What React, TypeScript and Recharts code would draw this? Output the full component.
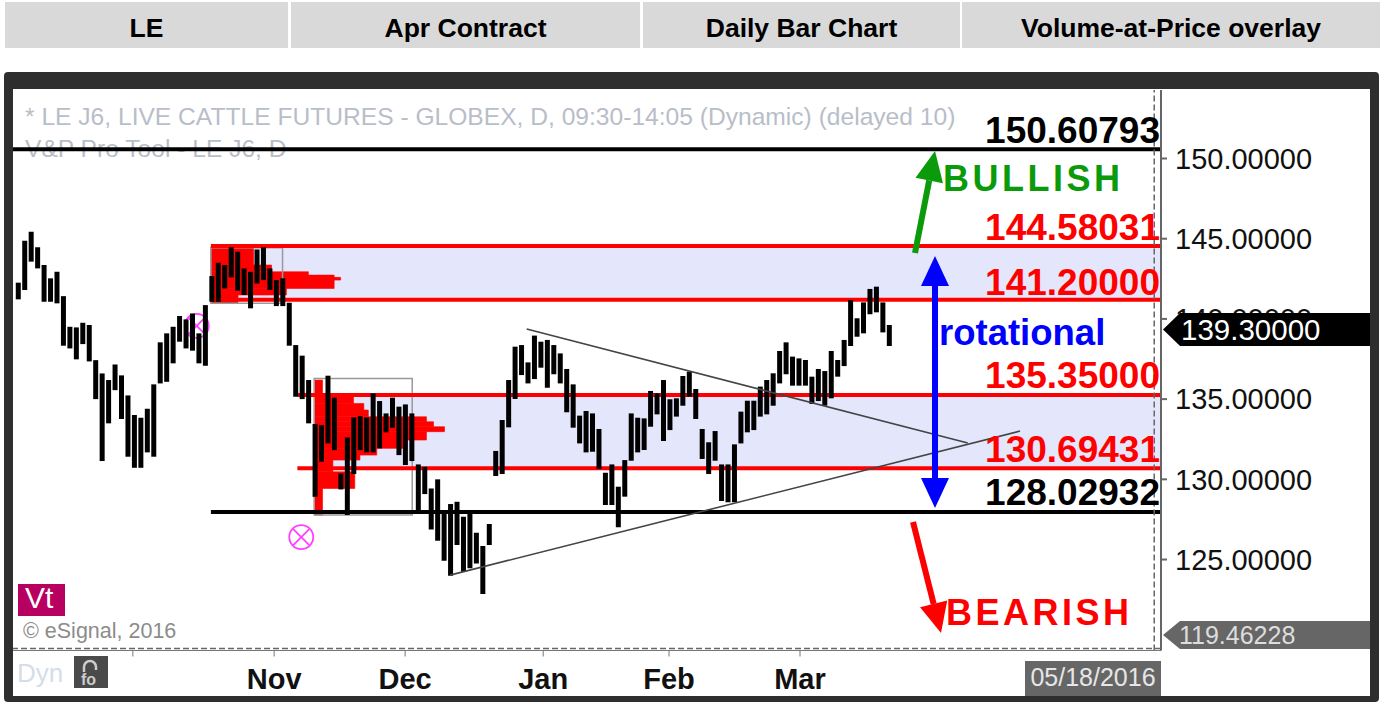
import {
  Bar,
  ComposedChart,
  ReferenceArea,
  ReferenceDot,
  ReferenceLine,
  XAxis,
  YAxis,
} from "recharts";

const FONT = '"Liberation Sans", Arial, sans-serif';

const HEADER_CELLS = ["LE", "Apr Contract", "Daily Bar Chart", "Volume-at-Price overlay"];

// daily highs and lows, one entry per session
const HIGHS = [
  142.26, 144.87, 145.44, 144.46, 143.36, 142.53, 142.94, 141.42, 139.51, 139.47,
  139.76, 139.62, 137.43, 136.6, 136.19, 137.16, 136.48, 135.23, 134.01, 133.84,
  134.4, 135.92, 138.54, 139.1, 139.51, 140.18, 139.97, 140.34, 139.1, 140.86,
  142.67, 143.5, 143.36, 144.46, 144.19, 143.15, 142.94, 144.33, 144.46, 143.15,
  142.42, 142.53, 141.01, 138.37, 137.71, 136.19, 133.45, 133.38, 136.46, 135.09,
  130.37, 132.61, 133.86, 133.94, 133.86, 135.36, 134.88, 134.11, 135.09, 134.53,
  134.67, 134.11, 130.93, 130.78, 129.43, 130.0, 127.98, 128.46, 128.6, 127.67,
  127.88, 126.67, 125.84, 127.21, 131.77, 133.7, 136.19, 138.27, 138.37, 137.29,
  138.96, 138.58, 138.69, 138.37, 137.85, 136.88, 135.92, 133.97, 134.26, 134.11,
  133.14, 130.41, 130.93, 129.54, 131.2, 134.11, 133.84, 133.8, 135.51, 135.36,
  136.19, 134.99, 135.05, 136.44, 136.71, 135.63, 133.14, 132.31, 133.01, 130.93,
  130.93, 132.18, 134.22, 134.9, 134.9, 135.78, 136.19, 136.61, 138.0, 138.54,
  137.65, 137.54, 137.44, 136.4, 136.88, 136.75, 138.0, 137.44, 138.69, 141.18,
  140.04, 141.03, 141.87, 142.01, 141.03, 139.62,
];
const LOWS = [
  141.22, 141.8, 143.57, 143.15, 141.07, 141.07, 140.97, 138.33, 138.16, 137.48,
  138.43, 137.35, 135.0, 131.14, 133.49, 135.56, 133.76, 131.41, 130.72, 130.72,
  131.68, 131.41, 135.98, 136.08, 137.23, 138.58, 138.16, 138.02, 137.23, 137.08,
  141.07, 141.07, 141.9, 142.59, 141.76, 141.49, 140.66, 142.21, 142.42, 141.8,
  140.8, 140.8, 138.33, 135.15, 135.0, 133.49, 128.91, 131.1, 132.24, 131.82,
  129.37, 127.77, 130.33, 131.82, 131.68, 131.68, 131.93, 132.93, 133.22, 131.51,
  130.89, 131.14, 127.98, 129.08, 126.88, 126.17, 124.92, 123.99, 125.9, 124.24,
  124.45, 124.76, 122.85, 125.91, 130.21, 130.33, 133.24, 135.01, 136.5, 135.98,
  136.25, 136.96, 135.71, 136.55, 135.98, 134.18, 133.22, 132.24, 131.68, 131.72,
  130.64, 128.4, 128.4, 127.01, 128.92, 131.16, 131.68, 131.83, 133.28, 134.05,
  132.39, 133.07, 133.91, 134.59, 135.15, 133.76, 131.27, 130.33, 131.16, 128.65,
  128.57, 128.57, 132.24, 132.93, 133.07, 133.91, 134.05, 134.59, 135.98, 136.55,
  135.84, 135.84, 135.84, 134.7, 134.88, 134.59, 135.05, 136.4, 137.06, 138.31,
  138.89, 139.1, 140.29, 140.41, 139.16, 138.31,
];

// volume-at-price rows: [top price, bottom price, session the row reaches]
const PROFILE_START_A = 29.9;
const PROFILE_A = [
  [144.5, 143.36, 36.5],
  [143.36, 142.94, 39.3],
  [142.94, 142.73, 45],
  [142.73, 141.9, 49],
  [142.59, 142.42, 50],
  [141.9, 141.49, 41.6],
  [141.49, 140.97, 34.1],
];
const PROFILE_START_B = 46;
const PROFILE_B = [
  [136.19, 135.15, 47.2],
  [135.15, 134.73, 52],
  [134.73, 134.32, 53.6],
  [134.32, 133.9, 54.3],
  [133.9, 133.59, 63.3],
  [133.59, 133.28, 64.4],
  [133.28, 132.97, 66.1],
  [132.97, 132.45, 63.3],
  [132.45, 131.93, 59.7],
  [131.93, 131.51, 55.6],
  [131.51, 131.2, 53],
  [131.2, 130.47, 48.8],
  [130.47, 129.43, 52.2],
  [129.43, 127.77, 47.2],
];

// where the level lines sit on the picture
const LEVEL_BLACK = [150.58, 127.96];
const LEVEL_RED = [144.55, 141.2, 135.26, 130.69];
const PRICE_TICKS = [125, 130, 135, 140, 145, 150];
const MONTH_TICKS = [17.8, 39.7, 60, 81.4, 100.9, 121.2];
const MONTH_LABELS = ["", "Nov", "Dec", "Jan", "Feb", "Mar"];

const chartData = HIGHS.map((high, i) => ({ i, range: [LOWS[i], high] }));

const monthLabel = (v: number) => MONTH_LABELS[MONTH_TICKS.indexOf(v)] ?? "";

function Arrow({ x1, y1, x2, y2, color }: { x1: number; y1: number; x2: number; y2: number; color: string }) {
  const len = Math.hypot(x2 - x1, y2 - y1);
  const ux = (x2 - x1) / len;
  const uy = (y2 - y1) / len;
  const bx = x2 - ux * 30;
  const by = y2 - uy * 30;
  return (
    <g>
      <line x1={x1} y1={y1} x2={bx} y2={by} stroke={color} strokeWidth={6} />
      <polygon
        points={`${x2},${y2} ${bx - uy * 14},${by + ux * 14} ${bx + uy * 14},${by - ux * 14}`}
        fill={color}
      />
    </g>
  );
}

function CrossCircle({ cx, cy }: { cx?: number; cy?: number }) {
  const c = cx ?? 0;
  const d = cy ?? 0;
  return (
    <g stroke="#ff40ff" strokeWidth={1.8} fill="none">
      <circle cx={c} cy={d} r={12} />
      <line x1={c - 8} y1={d - 8} x2={c + 8} y2={d + 8} />
      <line x1={c - 8} y1={d + 8} x2={c + 8} y2={d - 8} />
    </g>
  );
}

function PriceTag({ y, h, fill, text, color, size, textX }: { y: number; h: number; fill: string; text: string; color: string; size: number; textX: number }) {
  return (
    <g>
      <polygon
        points={`1163,${y + h / 2} 1180,${y} 1370,${y} 1370,${y + h} 1180,${y + h}`}
        fill={fill}
      />
      <text x={textX} y={y + h / 2 + size * 0.36} fontSize={size} fill={color} fontFamily={FONT}>
        {text}
      </text>
    </g>
  );
}

const levelStyle = { fontFamily: FONT, fontWeight: 700, fontSize: 37, textAnchor: "end" as const };

export default function App() {
  return (
    <div style={{ position: "absolute", left: 0, top: 0, width: 1380, height: 702, overflow: "hidden", background: "#fff" }}>
      {/* header row */}
      {HEADER_CELLS.map((label, i) => (
        <div
          key={label}
          style={{
            position: "absolute",
            left: [5, 291, 643, 962][i],
            width: [283, 349, 317, 418][i],
            top: 2,
            height: 46,
            lineHeight: "52px",
            background: "#d9d9d9",
            textAlign: "center",
            fontFamily: FONT,
            fontWeight: 700,
            fontSize: 26.5,
            color: "#000",
          }}
        >
          {label}
        </div>
      ))}
      {/* terminal frame */}
      <div
        style={{
          position: "absolute",
          left: 4,
          top: 72,
          width: 1375,
          height: 630,
          boxSizing: "border-box",
          borderStyle: "solid",
          borderColor: "#2e2e2e",
          borderWidth: "17px 9px 6px 9px",
          borderRadius: 4,
        }}
      />
      <div style={{ position: "absolute", left: 0, top: 0 }}>
        <ComposedChart
          width={1380}
          height={702}
          data={chartData}
          margin={{ top: 90, right: 0, bottom: 0, left: 13 }}
        >
          <XAxis
            type="number"
            dataKey="i"
            domain={[-0.775, 177.15]}
            ticks={MONTH_TICKS}
            tickFormatter={monthLabel}
            height={51.5}
            allowDataOverflow
            stroke="#777"
            tickSize={6}
            tickMargin={12}
            interval={0}
            tick={{ fill: "#111", fontFamily: FONT, fontWeight: 700, fontSize: 29 }}
          />
          <YAxis
            type="number"
            orientation="right"
            domain={[119.33, 154.27]}
            ticks={PRICE_TICKS}
            tickFormatter={(v: number) => v.toFixed(5)}
            width={219}
            allowDataOverflow
            stroke="#666"
            strokeWidth={2}
            tickSize={6}
            tickMargin={8}
            interval={0}
            tick={{ fill: "#111", fontFamily: FONT, fontSize: 29 }}
          />

          <text x={25} y={125} fontFamily={FONT} fontSize={24.6} fill="#b8bec9">
            * LE J6, LIVE CATTLE FUTURES - GLOBEX, D, 09:30-14:05 (Dynamic) (delayed 10)
          </text>
          <text x={25} y={157} fontFamily={FONT} fontSize={24.6} fill="#b8bec9">
            V&amp;P Pro Tool - LE J6, D
          </text>

          {/* rotational zones */}
          <ReferenceArea x1={29.9} x2={177.15} y1={LEVEL_RED[1]} y2={LEVEL_RED[0]} fill="#e4e6fb" fillOpacity={1} stroke="none" />
          <ReferenceArea x1={46} x2={177.15} y1={LEVEL_RED[3]} y2={LEVEL_RED[2]} fill="#e4e6fb" fillOpacity={1} stroke="none" />

          {/* volume-at-price profiles */}
          {PROFILE_A.map(([top, bottom, end]) => (
            <ReferenceArea key={top} x1={PROFILE_START_A} x2={end} y1={bottom} y2={top} fill="#ff0000" fillOpacity={1} stroke="#ff0000" strokeWidth={0.6} />
          ))}
          {PROFILE_B.map(([top, bottom, end]) => (
            <ReferenceArea key={top} x1={PROFILE_START_B} x2={end} y1={bottom} y2={top} fill="#ff0000" fillOpacity={1} stroke="#ff0000" strokeWidth={0.6} />
          ))}
          <ReferenceArea x1={29.9} x2={41} y1={140.97} y2={144.44} fill="none" stroke="#999" strokeWidth={1.5} />
          <ReferenceArea x1={45.9} x2={61.1} y1={127.77} y2={136.29} fill="none" stroke="#999" strokeWidth={1.5} />

          {/* price levels, under the bars */}
          <ReferenceLine zIndex={200} segment={[{ x: -0.775, y: LEVEL_BLACK[0] }, { x: 177.15, y: LEVEL_BLACK[0] }]} stroke="#000" strokeWidth={4} />
          <ReferenceLine zIndex={200} segment={[{ x: 29.9, y: LEVEL_BLACK[1] }, { x: 177.15, y: LEVEL_BLACK[1] }]} stroke="#000" strokeWidth={4} />
          <ReferenceLine zIndex={200} segment={[{ x: 29.9, y: LEVEL_RED[0] }, { x: 177.15, y: LEVEL_RED[0] }]} stroke="#ff0000" strokeWidth={4} />
          <ReferenceLine zIndex={200} segment={[{ x: 29.9, y: LEVEL_RED[1] }, { x: 177.15, y: LEVEL_RED[1] }]} stroke="#ff0000" strokeWidth={4} />
          <ReferenceLine zIndex={200} segment={[{ x: 43.3, y: LEVEL_RED[2] }, { x: 177.15, y: LEVEL_RED[2] }]} stroke="#ff0000" strokeWidth={4} />
          <ReferenceLine zIndex={200} segment={[{ x: 43.3, y: LEVEL_RED[3] }, { x: 177.15, y: LEVEL_RED[3] }]} stroke="#ff0000" strokeWidth={4} />

          <ReferenceDot zIndex={250} x={27.7} y={139.56} shape={CrossCircle} />
          <Bar dataKey="range" fill="#000" barSize={5} isAnimationActive={false} />

          {/* trend lines */}
          <ReferenceLine segment={[{ x: 78.84, y: 139.37 }, { x: 147.2, y: 132.26 }]} stroke="#444" strokeWidth={1.6} />
          <ReferenceLine segment={[{ x: 66.96, y: 124.03 }, { x: 155.3, y: 133.01 }]} stroke="#444" strokeWidth={1.6} />

          <ReferenceDot x={43.9} y={126.4} shape={CrossCircle} />

          {/* plot edge */}
          <ReferenceLine y={119.46228} stroke="#666" strokeWidth={1.5} strokeDasharray="6 3" />
          <ReferenceLine x={176.1} stroke="#666" strokeWidth={1.5} strokeDasharray="6 3" />
        </ComposedChart>
      </div>
      {/* hand-drawn annotations sit above the whole chart */}
      <svg width={1380} height={702} style={{ position: "absolute", left: 0, top: 0, pointerEvents: "none" }}>
        <Arrow x1={915} y1={253} x2={935} y2={151} color="#0a9a0a" />
        <Arrow x1={935} y1={380} x2={935} y2={256} color="#0000ff" />
        <Arrow x1={935} y1={380} x2={935} y2={508} color="#0000ff" />
        <Arrow x1={913} y1={522} x2={941} y2={633} color="#ff0000" />

        <text x={1160} y={143} fill="#000" {...levelStyle}>150.60793</text>
        <text x={1160} y={240} fill="#ff0000" {...levelStyle}>144.58031</text>
        <text x={1160} y={295} fill="#ff0000" {...levelStyle}>141.20000</text>
        <text x={1160} y={388} fill="#ff0000" {...levelStyle}>135.35000</text>
        <text x={1160} y={462} fill="#ff0000" {...levelStyle}>130.69431</text>
        <text x={1160} y={505} fill="#000" {...levelStyle}>128.02932</text>
        <text x={943} y={191} fill="#0a9a0a" fontFamily={FONT} fontWeight={700} fontSize={36} letterSpacing={3.5}>BULLISH</text>
        <text x={946} y={625} fill="#ff0000" fontFamily={FONT} fontWeight={700} fontSize={36} letterSpacing={3.5}>BEARISH</text>
        <text x={939} y={345} fill="#0000ff" fontFamily={FONT} fontWeight={700} fontSize={36.5}>rotational</text>

        {/* eSignal furniture */}
        <rect x={18} y={584} width={47} height={32} fill="#b80060" />
        <text x={25} y={608} fill="#fff" fontFamily={FONT} fontSize={30}>Vt</text>
        <text x={23} y={638} fill="#8c8c8c" fontFamily={FONT} fontSize={21.5}>© eSignal, 2016</text>
        <text x={17} y={682} fill="#d5dde8" fontFamily={FONT} fontSize={26}>Dyn</text>
        <rect x={74} y={656} width={34} height={32} fill="#4a4a4a" />
        <path d="M84 672 v-5 a6 6 0 0 1 12 0 v3" fill="none" stroke="#ccc" strokeWidth={2.5} />
        <text x={81} y={685} fill="#ccc" fontFamily={FONT} fontWeight={700} fontSize={16}>fo</text>
        <rect x={1025} y={661} width={136} height={35} fill="#666" />
        <text x={1093} y={686} fill="#e6e6e6" fontFamily={FONT} fontSize={25} textAnchor="middle">05/18/2016</text>
        <PriceTag y={313} h={33} fill="#000" text="139.30000" color="#fff" size={29.5} textX={1181} />
        <PriceTag y={621} h={28} fill="#666" text="119.46228" color="#ddd" size={25} textX={1179} />
      </svg>
    </div>
  );
}
